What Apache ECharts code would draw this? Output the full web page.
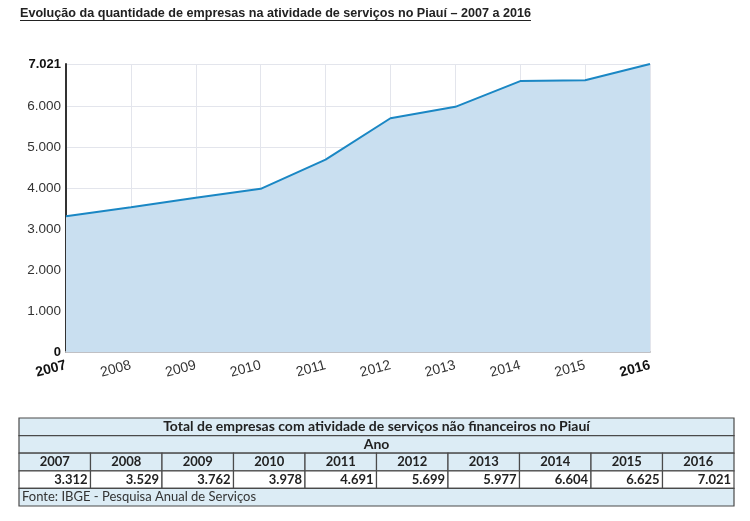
<!DOCTYPE html>
<html><head><meta charset="utf-8">
<script src="https://cdn.jsdelivr.net/npm/echarts@6/dist/echarts.min.js"></script>
<style>html,body{margin:0;padding:0;background:#fff}#c{width:750px;height:521px}</style>
</head><body><div id="c"></div>
<script>
const chartTitle = 'Evolução da quantidade de empresas na atividade de serviços no Piauí – 2007 a 2016';
const years = ['2007','2008','2009','2010','2011','2012','2013','2014','2015','2016'];
const empresas = [3312,3529,3762,3978,4691,5699,5977,6604,6625,7021];
const yTicks = [0,1000,2000,3000,4000,5000,6000,7021];
const boldYTicks = [0,7021];
const boldYears = ['2007','2016'];
const tableTitle = 'Total de empresas com atividade de serviços não financeiros no Piauí';
const tableSub = 'Ano';
const tableSource = 'Fonte: IBGE - Pesquisa Anual de Serviços';
const tableRows = ['titulo','sub','ano','valor','fonte'];

function fmt(v){ return String(v).replace(/\B(?=(\d{3})+(?!\d))/g,'.'); }

const titleFont = 'bold 12.6px "Liberation Sans", Arial, sans-serif';
const ctx = document.createElement('canvas').getContext('2d');
ctx.font = titleFont;
const titleW = ctx.measureText(chartTitle).width;

const cells = [];
cells.push({value:[0,'titulo'], span:true, text:tableTitle, align:'center', bold:true, size:14, bg:'#dcecf5'});
cells.push({value:[0,'sub'], span:true, text:tableSub, align:'center', bold:true, size:14, bg:'#dcecf5'});
years.forEach((y,i)=>cells.push({value:[i,'ano'], text:y, align:'center', bold:true, size:13, bg:'#dcecf5'}));
empresas.forEach((v,i)=>cells.push({value:[i,'valor'], text:fmt(v), align:'right', bold:true, size:13, bg:'#ffffff'}));
cells.push({value:[0,'fonte'], span:true, text:tableSource, align:'left', bold:false, size:13, bg:'#dcecf5'});

const chart = echarts.init(document.getElementById('c'), null, {renderer:'canvas'});
chart.setOption({
  animation:false,
  backgroundColor:'#fff',
  graphic:[
    {type:'text', left:20, top:7, style:{text:chartTitle, font:titleFont, fill:'#222'}},
    {type:'rect', left:20, top:20, shape:{width:titleW, height:1}, style:{fill:'#222'}}
  ],
  grid:[
    {left:66, right:100, top:64, bottom:169, containLabel:false},
    {left:19, width:715, top:418, height:88, containLabel:false}
  ],
  xAxis:[
    {type:'category', gridIndex:0, data:years, boundaryGap:false,
     axisLine:{lineStyle:{color:'#c0c0c4', width:2}},
     axisTick:{show:false, interval:0},
     axisLabel:{interval:0, hideOverlap:false, rotate:15, margin:13, fontFamily:'"Liberation Sans", Arial, sans-serif', fontSize:14, color:'#333',
       formatter:v=>boldYears.includes(v)?'{b|'+v+'}':v,
       rich:{b:{fontWeight:'bold', color:'#111', fontSize:14, fontFamily:'"Liberation Sans", Arial, sans-serif'}}},
     splitLine:{show:true, interval:0, lineStyle:{color:'#e3e5ec', width:1}}},
    {type:'category', gridIndex:1, data:years, show:false}
  ],
  yAxis:[
    {type:'value', gridIndex:0, min:0, max:7021,
     axisLine:{show:true, lineStyle:{color:'#333', width:2}},
     axisTick:{show:false, customValues:yTicks},
     axisLabel:{customValues:yTicks, margin:5, fontFamily:'"Liberation Sans", Arial, sans-serif', fontSize:13.5, color:'#333',
       formatter:v=>boldYTicks.includes(v)?'{b|'+fmt(v)+'}':fmt(v),
       rich:{b:{fontWeight:'bold', color:'#111', fontSize:13, fontFamily:'"Liberation Sans", Arial, sans-serif'}}},
     splitLine:{show:true, lineStyle:{color:'#e3e5ec', width:1}}},
    {type:'category', gridIndex:1, data:tableRows, inverse:true, show:false}
  ],
  series:[
    {type:'line', xAxisIndex:0, yAxisIndex:0, data:empresas, symbol:'none',
     lineStyle:{color:'#1a87c4', width:2}, areaStyle:{color:'#c9dff0', opacity:1}},
    {type:'custom', xAxisIndex:1, yAxisIndex:1, data:cells,
     renderItem:(params, api)=>{
       const c = cells[params.dataIndex];
       const cs = params.coordSys;
       const size = api.size([1,1]);
       const pt = api.coord([api.value(0), api.value(1)]);
       let x, w;
       if (c.span){ x = cs.x; w = cs.width; } else { x = pt[0]-size[0]/2; w = size[0]; }
       const y = pt[1]-size[1]/2, h = size[1];
       let tx = x + w/2;
       if (c.align==='right') tx = x + w - 3;
       if (c.align==='left') tx = x + 3;
       return {type:'group', children:[
         {type:'rect', shape:{x:x, y:y, width:w, height:h}, style:{fill:c.bg, stroke:'#4a4a4a', lineWidth:1.2}},
         {type:'text', style:{x:tx, y:y+h/2, text:c.text, align:c.align, verticalAlign:'middle',
           font:(c.bold?'bold ':'')+c.size+'px Lato, "Open Sans", sans-serif', fill:c.bold?'#222':'#333'}}
       ]};
     }}
  ]
});
</script></body></html>
